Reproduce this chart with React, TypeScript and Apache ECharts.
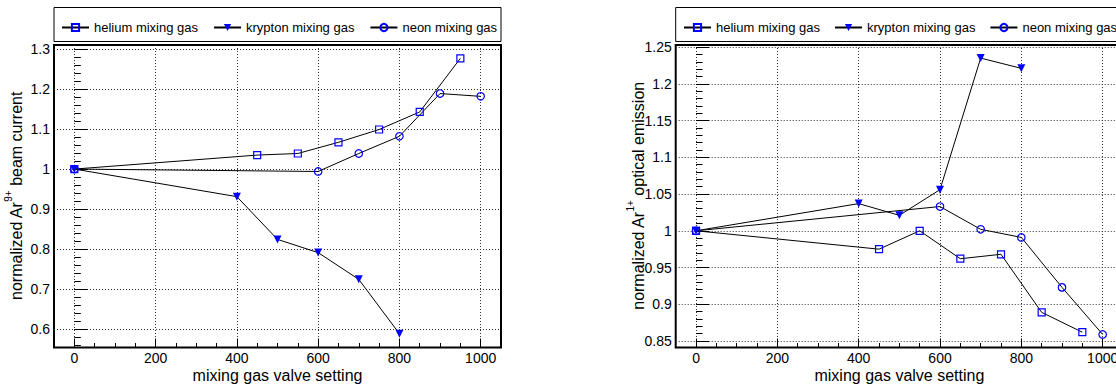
import React, { useEffect, useRef } from "react";
import * as echarts from "echarts";

const SERIES_NAMES = ["helium mixing gas", "krypton mixing gas", "neon mixing gas"];

const HELIUM_X = [0, 450, 550, 650, 750, 850, 950];
const KRYPTON_X = [0, 400, 500, 600, 700, 800];
const NEON_X = [0, 600, 700, 800, 900, 1000];

// left panel: normalized Ar9+ beam current
const HELIUM_BEAM = [1.0, 1.035, 1.039, 1.067, 1.099, 1.143, 1.277];
const KRYPTON_BEAM = [1.0, 0.931, 0.824, 0.791, 0.724, 0.588];
const NEON_BEAM = [1.0, 0.994, 1.039, 1.082, 1.189, 1.182];

// right panel: normalized Ar1+ optical emission
const HELIUM_OPT = [1.0, 0.975, 1.0, 0.962, 0.968, 0.889, 0.862];
const KRYPTON_OPT = [1.0, 1.037, 1.021, 1.056, 1.235, 1.221];
const NEON_OPT = [1.0, 1.033, 1.002, 0.991, 0.923, 0.859];

const X_TICKS = [0, 200, 400, 600, 800, 1000];
const BEAM_TICKS = [0.6, 0.7, 0.8, 0.9, 1.0, 1.1, 1.2, 1.3];
const OPT_TICKS = [0.85, 0.9, 0.95, 1.0, 1.05, 1.1, 1.15, 1.2, 1.25];

const X_RANGE = [-50, 1050];
const BEAM_RANGE = [0.5535, 1.3105];
const OPT_RANGE = [0.8412, 1.2528];

const X_TITLE = "mixing gas valve setting";

const FONT = '"Liberation Sans", Arial, Helvetica, sans-serif';

function subTicks(min: number, max: number, step: number): number[] {
  const out: number[] = [];
  const start = Math.ceil(min / step - 1e-9);
  for (let k = start; k * step <= max + 1e-9; k++) out.push(+(k * step).toFixed(4));
  return out;
}

const fmt = (v: number) => String(+Number(v).toFixed(3));

const GRIDS = [
  { left: 54, top: 45, width: 447, height: 302.5 },
  { left: 675.7, top: 45, width: 447.3, height: 302.5 },
];

function xAxes(gridIndex: number) {
  return [
    {
      type: "value",
      gridIndex,
      position: "bottom",
      min: X_RANGE[0],
      max: X_RANGE[1],
      axisLine: { show: false },
      axisTick: { show: true, inside: true, length: 9, customValues: X_TICKS, lineStyle: { color: "#000", width: 1 } },
      axisLabel: { show: true, customValues: X_TICKS, margin: 3, fontSize: 14, color: "#000", fontFamily: FONT, formatter: fmt },
      splitLine: { show: true, lineStyle: { color: "#333", type: [1, 2], width: 1 } },
    },
    {
      type: "value",
      gridIndex,
      position: "bottom",
      min: X_RANGE[0],
      max: X_RANGE[1],
      axisLine: { show: false },
      axisTick: { show: true, inside: true, length: 4.5, customValues: subTicks(X_RANGE[0], X_RANGE[1], 50), lineStyle: { color: "#000", width: 1 } },
      axisLabel: { show: false },
      splitLine: { show: false },
    },
  ];
}

function yAxes(gridIndex: number, range: number[], ticks: number[], minorStep: number) {
  return [
    {
      type: "value",
      gridIndex,
      position: "left",
      min: range[0],
      max: range[1],
      axisLine: { show: false },
      axisTick: { show: true, inside: true, length: 13, customValues: ticks, lineStyle: { color: "#000", width: 1 } },
      axisLabel: { show: true, customValues: ticks, margin: 4, fontSize: 14, color: "#000", fontFamily: FONT, formatter: fmt },
      splitLine: { show: true, lineStyle: { color: "#333", type: [1, 2], width: 1 } },
    },
    {
      type: "value",
      gridIndex,
      position: "left",
      min: range[0],
      max: range[1],
      axisLine: { show: false },
      axisTick: { show: true, inside: true, length: 6.5, customValues: subTicks(range[0], range[1], minorStep), lineStyle: { color: "#000", width: 1 } },
      axisLabel: { show: false },
      splitLine: { show: false },
    },
  ];
}

const MARKERS = [
  { symbol: "rect", symbolSize: 7, itemStyle: { color: "rgba(0,0,0,0)", borderColor: "#0000ff", borderWidth: 1.2 } },
  { symbol: "triangle", symbolRotate: 180, symbolSize: 8, itemStyle: { color: "#0000ff", borderWidth: 0 } },
  { symbol: "circle", symbolSize: 7.5, itemStyle: { color: "rgba(0,0,0,0)", borderColor: "#0000ff", borderWidth: 1.2 } },
];

function lineSeries(idx: number, xs: number[], ys: number[], axisIndex: number) {
  return {
    type: "line",
    name: SERIES_NAMES[idx],
    xAxisIndex: axisIndex,
    yAxisIndex: axisIndex,
    data: xs.map((x, i) => [x, ys[i]]),
    showSymbol: true,
    clip: false,
    lineStyle: { color: "#000", width: 1 },
    emphasis: { disabled: true },
    ...MARKERS[idx],
  };
}

function legend(left: number, gap: number) {
  return {
    left,
    top: 21,
    padding: 0,
    itemWidth: 27,
    itemHeight: 9,
    itemGap: gap,
    selectedMode: false,
    data: SERIES_NAMES,
    textStyle: { fontSize: 13, color: "#000", fontFamily: FONT },
  };
}

function yTitle(x: number, main1: string, sup: string, main2: string) {
  return {
    type: "text",
    x,
    y: 196,
    rotation: Math.PI / 2,
    silent: true,
    style: {
      text: `{m|${main1}}{s|${sup}}{m|${main2}}`,
      align: "center",
      verticalAlign: "middle",
      rich: {
        m: { fontSize: 16, fontFamily: FONT, fill: "#000", lineHeight: 21, verticalAlign: "bottom" },
        s: { fontSize: 10, fontFamily: FONT, fill: "#000", lineHeight: 21, verticalAlign: "top" },
      },
    },
  };
}

function xTitle(x: number) {
  return {
    type: "text",
    x,
    y: 375,
    silent: true,
    style: { text: X_TITLE, fontSize: 16, fontFamily: FONT, fill: "#000", align: "center", verticalAlign: "middle" },
  };
}

export default function App() {
  const ref = useRef<HTMLDivElement>(null);
  useEffect(() => {
    if (!ref.current) return;
    const chart = echarts.init(ref.current, undefined, { renderer: "svg" });
    chart.setOption({
      animation: false,
      backgroundColor: "#fff",
      grid: GRIDS.map((g) => ({ ...g, show: true, borderColor: "#000", borderWidth: 2, backgroundColor: "transparent", containLabel: false })),
      xAxis: [...xAxes(0), ...xAxes(1)],
      yAxis: [...yAxes(0, BEAM_RANGE, BEAM_TICKS, 0.02), ...yAxes(1, OPT_RANGE, OPT_TICKS, 0.01)],
      legend: [legend(61, 15), legend(683, 14)],
      series: [
        lineSeries(0, HELIUM_X, HELIUM_BEAM, 0),
        lineSeries(1, KRYPTON_X, KRYPTON_BEAM, 0),
        lineSeries(2, NEON_X, NEON_BEAM, 0),
        lineSeries(0, HELIUM_X, HELIUM_OPT, 2),
        lineSeries(1, KRYPTON_X, KRYPTON_OPT, 2),
        lineSeries(2, NEON_X, NEON_OPT, 2),
      ],
      graphic: [
        { type: "rect", silent: true, z: 0, shape: { x: 54, y: 7.5, width: 447, height: 34 }, style: { fill: "none", stroke: "#000", lineWidth: 1 } },
        { type: "rect", silent: true, z: 0, shape: { x: 675.7, y: 7.5, width: 460, height: 34 }, style: { fill: "none", stroke: "#000", lineWidth: 1 } },
        yTitle(13.5, "normalized Ar", "9+", " beam current"),
        yTitle(635.9, "normalized Ar", "1+", " optical emission"),
        xTitle(277.5),
        xTitle(899.4),
      ],
    });
    return () => chart.dispose();
  }, []);
  return (
    <div style={{ position: "absolute", left: 0, top: 0, width: 1116, height: 386, overflow: "hidden", background: "#fff" }}>
      <div ref={ref} style={{ width: 1130, height: 386 }} />
    </div>
  );
}
